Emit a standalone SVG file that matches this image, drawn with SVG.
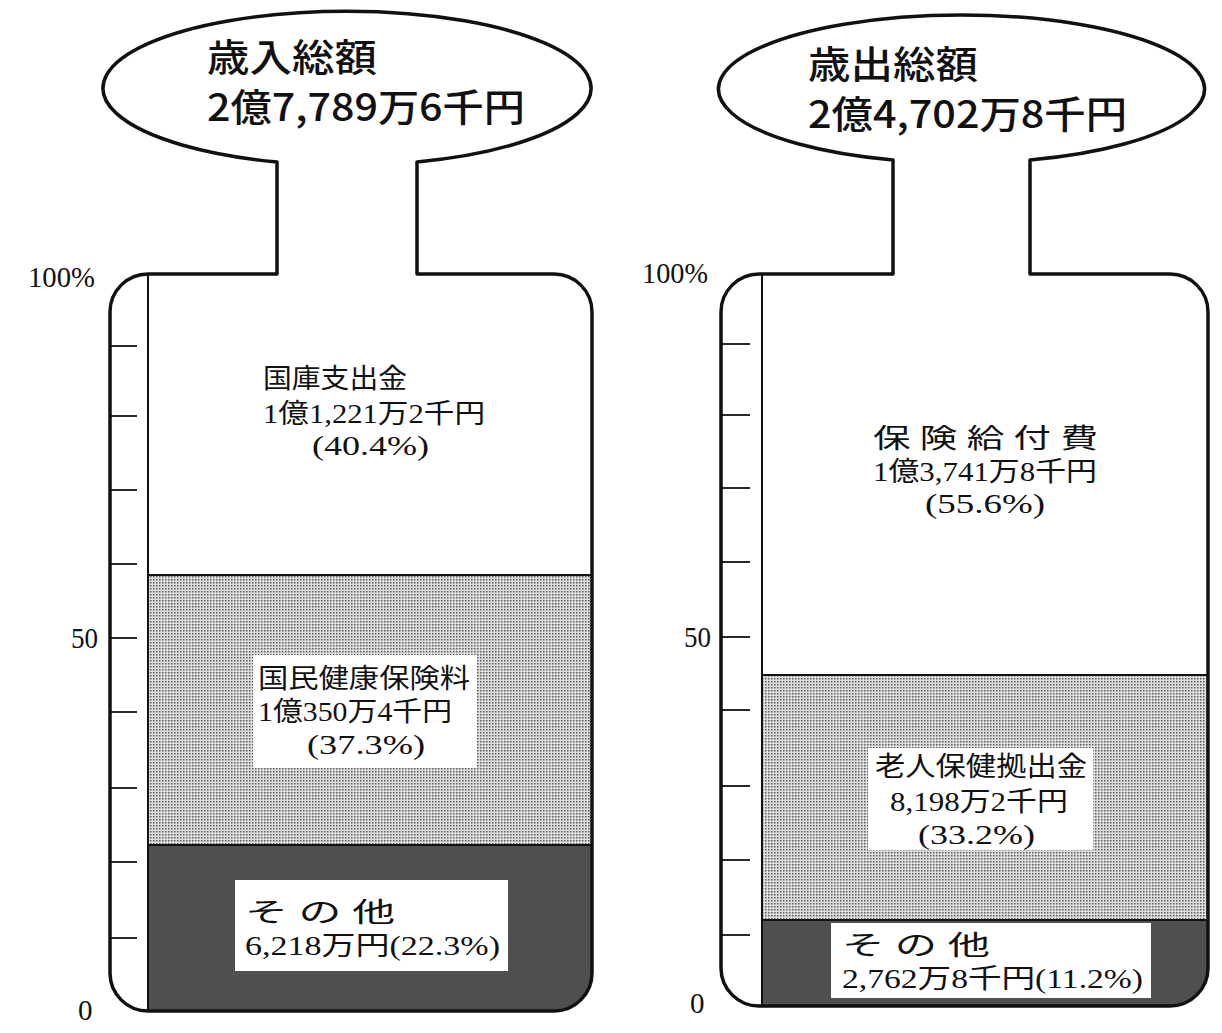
<svg xmlns="http://www.w3.org/2000/svg" width="1222" height="1033" viewBox="0 0 1222 1033">
<style>
.outline{fill:none;stroke:#111;stroke-width:3.5;stroke-linejoin:round}
.inner{stroke:#111;stroke-width:2;fill:none}
.tick{stroke:#111;stroke-width:1.8}
.sep{stroke:#111;stroke-width:2.2}
.gray{fill:url(#dots)}
.dark{fill:#4f4f4f}
.box{fill:#fff}
.title{font-family:"Noto Sans CJK JP","Liberation Sans",sans-serif;font-size:38px;font-weight:500;fill:#111}
.lab{font-family:"Liberation Serif","Noto Sans CJK JP",serif;font-size:27px;fill:#111}
.ax{font-family:"Liberation Serif","Noto Sans CJK JP",serif;font-size:29px;fill:#111}
</style>
<defs>
<pattern id="dots" width="3" height="3" patternUnits="userSpaceOnUse">
<rect width="3" height="3" fill="#dedede"/>
<rect width="1.5" height="1.5" fill="#5a5a5a"/>
</pattern>
<clipPath id="clipL"><rect x="110" y="274" width="482" height="737" rx="38" ry="38"/></clipPath>
<clipPath id="clipR"><rect x="721" y="274" width="487" height="732" rx="38" ry="38"/></clipPath>
</defs>
<rect width="1222" height="1033" fill="#fff"/>

<g id="revenue-bottle">
<g clip-path="url(#clipL)">
<rect class="gray" x="148" y="575" width="444" height="270"/>
<rect class="dark" x="148" y="845" width="444" height="166"/>
</g>
<line class="sep" x1="148" y1="575" x2="592" y2="575"/>
<line class="sep" x1="148" y1="845" x2="592" y2="845"/>
<line class="inner" x1="148" y1="274" x2="148" y2="1011"/>
<path class="outline" d="M277,162 L277,274 L148,274 A38,38 0 0 0 110,312 L110,973 A38,38 0 0 0 148,1011 L554,1011 A38,38 0 0 0 592,973 L592,312 A38,38 0 0 0 554,274 L417,274 L417,162 A244,77 0 1 0 277,162 Z"/>
<g id="revenue-ticks">
<line class="tick" x1="110" y1="346" x2="137" y2="346"/>
<line class="tick" x1="110" y1="416" x2="137" y2="416"/>
<line class="tick" x1="110" y1="490" x2="137" y2="490"/>
<line class="tick" x1="110" y1="564" x2="137" y2="564"/>
<line class="tick" x1="110" y1="638" x2="137" y2="638"/>
<line class="tick" x1="110" y1="712" x2="137" y2="712"/>
<line class="tick" x1="110" y1="788" x2="137" y2="788"/>
<line class="tick" x1="110" y1="862" x2="137" y2="862"/>
<line class="tick" x1="110" y1="938" x2="137" y2="938"/>
</g>
<text class="ax" x="28" y="287" textLength="67" lengthAdjust="spacingAndGlyphs">100%</text>
<text class="ax" x="71" y="648" textLength="27" lengthAdjust="spacingAndGlyphs">50</text>
<text class="ax" x="78" y="1020">0</text>
</g>

<g id="revenue-title">
<text class="title" x="207" y="71" textLength="170" lengthAdjust="spacingAndGlyphs">歳入総額</text>
<text class="title" x="207" y="121" textLength="318" lengthAdjust="spacingAndGlyphs">2億7,789万6千円</text>
</g>

<g id="revenue-national">
<text class="lab" x="263" y="388" textLength="144" lengthAdjust="spacingAndGlyphs">国庫支出金</text>
<text class="lab" x="263" y="423" textLength="222" lengthAdjust="spacingAndGlyphs">1億1,221万2千円</text>
<text class="lab" x="312" y="455" textLength="117" lengthAdjust="spacingAndGlyphs">(40.4%)</text>
</g>

<g id="revenue-premium">
<rect class="box" x="253" y="655" width="224" height="113"/>
<text class="lab" x="258" y="688" textLength="212" lengthAdjust="spacingAndGlyphs">国民健康保険料</text>
<text class="lab" x="258" y="721" textLength="194" lengthAdjust="spacingAndGlyphs">1億350万4千円</text>
<text class="lab" x="307" y="754" textLength="118" lengthAdjust="spacingAndGlyphs">(37.3%)</text>
</g>

<g id="revenue-other">
<rect class="box" x="235" y="880" width="273" height="91"/>
<text class="lab" x="245" y="922" textLength="150" lengthAdjust="spacingAndGlyphs">そ の 他</text>
<text class="lab" x="245" y="955" textLength="255" lengthAdjust="spacingAndGlyphs">6,218万円(22.3%)</text>
</g>

<g id="expenditure-bottle">
<g clip-path="url(#clipR)">
<rect class="gray" x="762" y="675" width="446" height="245"/>
<rect class="dark" x="762" y="920" width="446" height="86"/>
</g>
<line class="sep" x1="762" y1="675" x2="1208" y2="675"/>
<line class="sep" x1="762" y1="920" x2="1208" y2="920"/>
<line class="inner" x1="762" y1="274" x2="762" y2="1006"/>
<path class="outline" d="M893,160 L893,274 L759,274 A38,38 0 0 0 721,312 L721,968 A38,38 0 0 0 759,1006 L1170,1006 A38,38 0 0 0 1208,968 L1208,312 A38,38 0 0 0 1170,274 L1030,274 L1030,160 A243,74 0 1 0 893,160 Z"/>
<g id="expenditure-ticks">
<line class="tick" x1="721" y1="344" x2="750" y2="344"/>
<line class="tick" x1="721" y1="415" x2="750" y2="415"/>
<line class="tick" x1="721" y1="488" x2="750" y2="488"/>
<line class="tick" x1="721" y1="562" x2="750" y2="562"/>
<line class="tick" x1="721" y1="637" x2="750" y2="637"/>
<line class="tick" x1="721" y1="710" x2="750" y2="710"/>
<line class="tick" x1="721" y1="786" x2="750" y2="786"/>
<line class="tick" x1="721" y1="860" x2="750" y2="860"/>
<line class="tick" x1="721" y1="935" x2="750" y2="935"/>
</g>
<text class="ax" x="642" y="283" textLength="66" lengthAdjust="spacingAndGlyphs">100%</text>
<text class="ax" x="684" y="647" textLength="27" lengthAdjust="spacingAndGlyphs">50</text>
<text class="ax" x="690" y="1013">0</text>
</g>

<g id="expenditure-title">
<text class="title" x="808" y="78" textLength="170" lengthAdjust="spacingAndGlyphs">歳出総額</text>
<text class="title" x="808" y="128" textLength="319" lengthAdjust="spacingAndGlyphs">2億4,702万8千円</text>
</g>

<g id="expenditure-benefits">
<text class="lab" x="873" y="448" textLength="225" lengthAdjust="spacingAndGlyphs">保 険 給 付 費</text>
<text class="lab" x="873" y="481" textLength="224" lengthAdjust="spacingAndGlyphs">1億3,741万8千円</text>
<text class="lab" x="925" y="513" textLength="120" lengthAdjust="spacingAndGlyphs">(55.6%)</text>
</g>

<g id="expenditure-elderly">
<rect class="box" x="868" y="748" width="225" height="102"/>
<text class="lab" x="875" y="776" textLength="212" lengthAdjust="spacingAndGlyphs">老人保健拠出金</text>
<text class="lab" x="890" y="811" textLength="178" lengthAdjust="spacingAndGlyphs">8,198万2千円</text>
<text class="lab" x="918" y="844" textLength="117" lengthAdjust="spacingAndGlyphs">(33.2%)</text>
</g>

<g id="expenditure-other">
<rect class="box" x="831" y="923" width="320" height="75"/>
<text class="lab" x="842" y="955" textLength="148" lengthAdjust="spacingAndGlyphs">そ の 他</text>
<text class="lab" x="842" y="988" textLength="301" lengthAdjust="spacingAndGlyphs">2,762万8千円(11.2%)</text>
</g>
</svg>
